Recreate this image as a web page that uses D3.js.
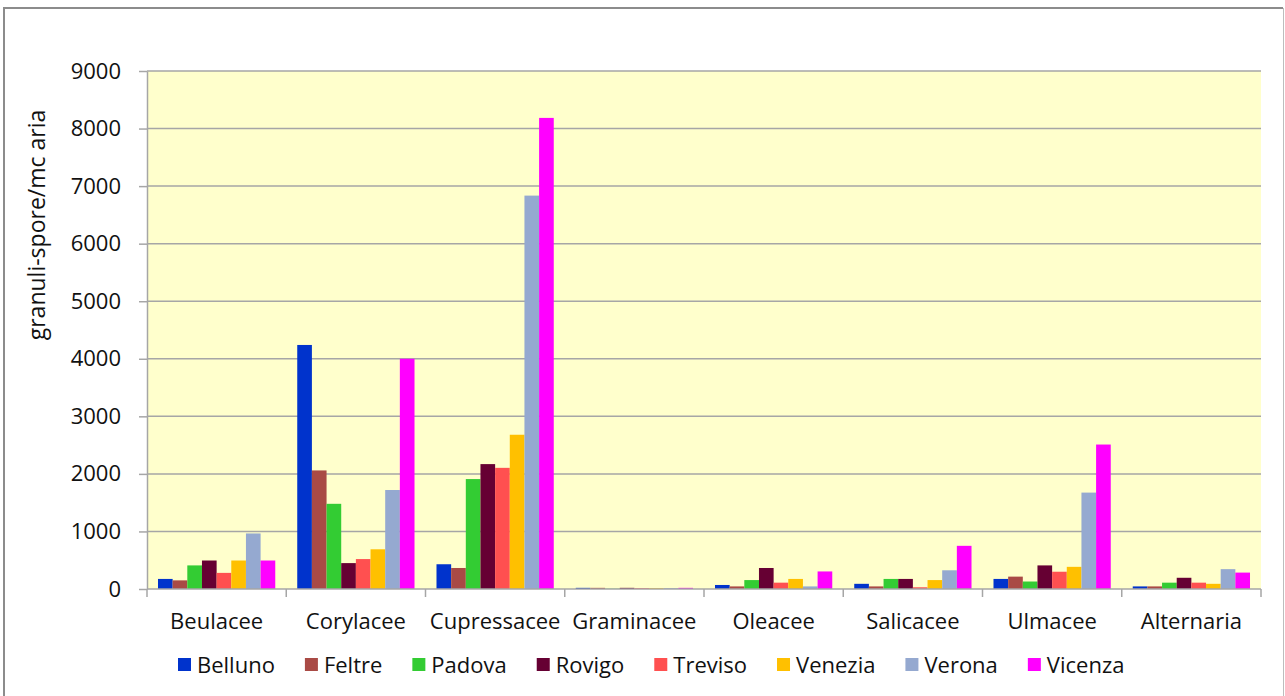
<!DOCTYPE html>
<html>
<head>
<meta charset="utf-8">
<script src="https://cdn.jsdelivr.net/npm/d3@7/dist/d3.min.js"></script>
<style>
  html, body { margin: 0; padding: 0; background: #ffffff; }
  svg { display: block; }
  text { font-family: "Open Sans", "Noto Sans", sans-serif; fill: #111111; }
</style>
</head>
<body>
<svg id="chart" width="1285" height="696"></svg>
<script>
// Pollen / spore families on the x axis
const categories = ["Beulacee", "Corylacee", "Cupressacee", "Graminacee", "Oleacee", "Salicacee", "Ulmacee", "Alternaria"];
// Monitoring stations (one bar each per family)
const stations = ["Belluno", "Feltre", "Padova", "Rovigo", "Treviso", "Venezia", "Verona", "Vicenza"];
const stationColors = ["#0033CC", "#A94A45", "#33CC33", "#660033", "#FF5050", "#FFC000", "#95A9D0", "#FF00FF"];

// granuli-spore / mc aria, one array per station, in category order
const belluno = [175, 4240, 430, 20, 70, 90, 175, 45];
const feltre  = [150, 2060, 365, 20, 45, 45, 215, 45];
const padova  = [410, 1480, 1910, 5, 155, 175, 130, 110];
const rovigo  = [495, 450, 2170, 20, 365, 175, 410, 195];
const treviso = [280, 520, 2105, 15, 110, 30, 300, 110];
const venezia = [495, 690, 2680, 15, 175, 155, 385, 90];
const verona  = [965, 1720, 6835, 15, 45, 325, 1675, 345];
const vicenza = [495, 4000, 8185, 20, 305, 750, 2510, 285];
const seriesValues = [belluno, feltre, padova, rovigo, treviso, venezia, verona, vicenza];

const yTicks = [0, 1000, 2000, 3000, 4000, 5000, 6000, 7000, 8000, 9000];
const yTitle = "granuli-spore/mc aria";

const svg = d3.select("#chart");
const plot = { left: 147, right: 1261, top: 71, bottom: 589 };
const gridColor = "#A6A6A6";
const fontSize = 22;

// outer chart frame
svg.append("path")
  .attr("d", "M4,696 L4,8 L1283,8")
  .attr("fill", "none").attr("stroke", "#8c8c8c").attr("stroke-width", 2);
svg.append("line")
  .attr("x1", 1283.5).attr("x2", 1283.5).attr("y1", 8).attr("y2", 696)
  .attr("stroke", "#bdbdbd").attr("stroke-width", 1);

const x0 = d3.scaleBand().domain(categories).range([plot.left, plot.right]).paddingInner(0).paddingOuter(0);
const x1 = d3.scaleBand().domain(stations).range([0, x0.bandwidth()]).paddingInner(0).paddingOuter(0.75);
const y = d3.scaleLinear().domain([0, 9000]).range([plot.bottom, plot.top]);
const color = d3.scaleOrdinal().domain(stations).range(stationColors);

// plot area background
svg.append("rect")
  .attr("x", plot.left).attr("y", plot.top)
  .attr("width", plot.right - plot.left).attr("height", plot.bottom - plot.top)
  .attr("fill", "#FFFFCC");

// horizontal gridlines
svg.append("g").selectAll("line")
  .data(yTicks.filter(d => d > 0))
  .join("line")
  .attr("x1", plot.left).attr("x2", plot.right)
  .attr("y1", d => y(d)).attr("y2", d => y(d))
  .attr("stroke", gridColor).attr("stroke-width", 1.5);

// bars
const groups = svg.append("g").selectAll("g")
  .data(categories)
  .join("g")
  .attr("transform", d => `translate(${x0(d)},0)`);

groups.selectAll("rect")
  .data((c, ci) => stations.map((s, si) => ({ station: s, value: seriesValues[si][ci] })))
  .join("rect")
  .attr("x", d => x1(d.station))
  .attr("width", x1.bandwidth())
  .attr("y", d => y(d.value))
  .attr("height", d => y(0) - y(d.value))
  .attr("fill", d => color(d.station));

// y axis
const yAxis = svg.append("g")
  .attr("transform", `translate(${plot.left},0)`)
  .call(d3.axisLeft(y).tickValues(yTicks).tickFormat(d3.format("d")).tickSize(8).tickSizeOuter(0).tickPadding(18));
yAxis.select(".domain").attr("stroke", gridColor).attr("stroke-width", 1.5);
yAxis.selectAll(".tick line").attr("stroke", gridColor).attr("stroke-width", 1.5);
yAxis.selectAll(".tick text")
  .attr("font-size", fontSize).attr("fill", "#111111")
  .style("font-family", '"Open Sans", "Noto Sans", sans-serif');

// x axis: baseline, ticks between categories, category labels
const xAxis = svg.append("g");
xAxis.append("line")
  .attr("x1", plot.left).attr("x2", plot.right)
  .attr("y1", plot.bottom).attr("y2", plot.bottom)
  .attr("stroke", gridColor).attr("stroke-width", 1.5);
const boundaries = categories.map(c => x0(c)).concat([x0(categories[categories.length - 1]) + x0.bandwidth()]);
xAxis.selectAll("line.tick")
  .data(boundaries)
  .join("line")
  .attr("class", "tick")
  .attr("x1", d => d).attr("x2", d => d)
  .attr("y1", plot.bottom).attr("y2", plot.bottom + 8)
  .attr("stroke", gridColor).attr("stroke-width", 1.5);
xAxis.selectAll("text")
  .data(categories)
  .join("text")
  .attr("x", d => x0(d) + x0.bandwidth() / 2)
  .attr("y", 629)
  .attr("text-anchor", "middle")
  .attr("font-size", fontSize)
  .text(d => d);

// y axis title
svg.append("text")
  .attr("transform", "translate(45,225) rotate(-90)")
  .attr("text-anchor", "middle")
  .attr("font-size", 23)
  .text(yTitle);

// legend, laid out left to right
const legend = svg.append("g");
let lx = 178;
stations.forEach((s, i) => {
  legend.append("rect")
    .attr("x", lx).attr("y", 658)
    .attr("width", 13).attr("height", 13)
    .attr("fill", stationColors[i]);
  const t = legend.append("text")
    .attr("x", lx + 19).attr("y", 673)
    .attr("font-size", fontSize)
    .text(s);
  lx += 19 + t.node().getComputedTextLength() + 30;
});
</script>
</body>
</html>
